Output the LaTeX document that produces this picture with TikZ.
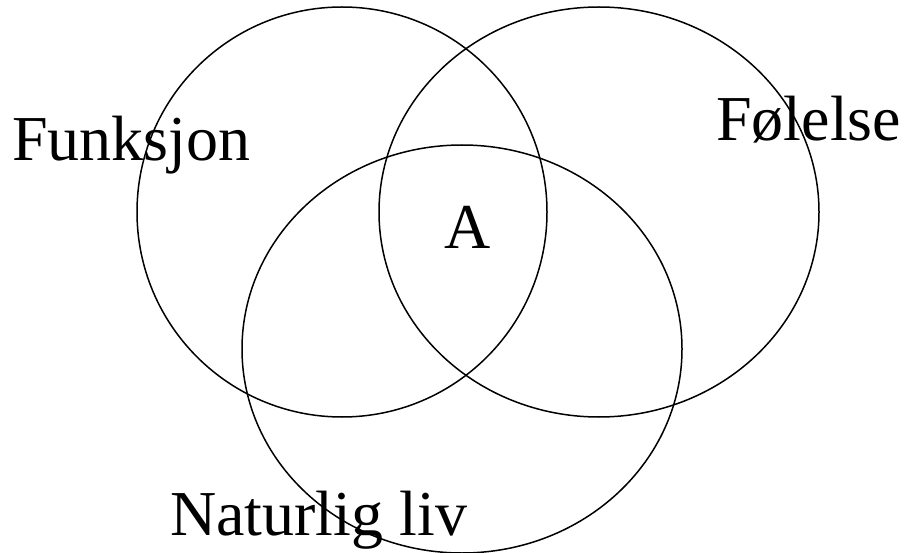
\documentclass[tikz,border=0pt]{standalone}
\usepackage{fontspec}
\setmainfont{Liberation Serif}
\begin{document}
\begin{tikzpicture}[x=1pt,y=-1pt,
  ring/.style={draw=black,line width=1.5pt},
  lbl/.style={inner sep=0pt,anchor=base west,font=\fontsize{64}{70}\selectfont}]
\useasboundingbox (0,0) rectangle (904,553);
\draw[ring] (342,212) ellipse [x radius=205,y radius=205];
\draw[ring] (599,212) ellipse [x radius=220,y radius=205];
\draw[ring] (462,349) ellipse [x radius=220,y radius=204];
\node[lbl] (fun) at (12,161) {Funksjon};
\node[lbl] (fol) at (716,141) {Følelse};
\node[lbl] (a) at (444,248) {A};
\node[lbl] (nat) at (170,535) {Naturlig liv};
\end{tikzpicture}
\end{document}
